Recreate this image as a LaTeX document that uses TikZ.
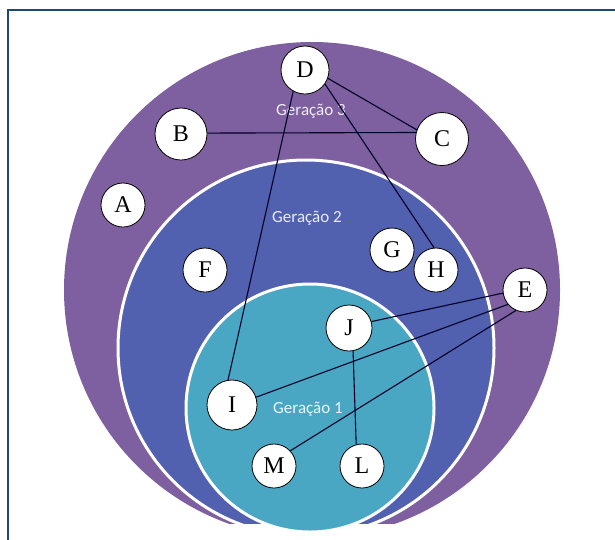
\documentclass[tikz,border=0pt]{standalone}
\usepackage{fontspec}
\setmainfont{Liberation Serif}
\newfontfamily\genfont{Carlito}
\usepackage{tikz}

\definecolor{genpurple}{RGB}{126,95,160}
\definecolor{genblue}{RGB}{81,97,176}
\definecolor{genteal}{RGB}{73,167,195}
\definecolor{frameblue}{RGB}{31,72,122}

\begin{document}
\begin{tikzpicture}
[x=1pt,y=-1pt,
  main node/.style={circle,fill=white,draw=black,line width=0.8pt,inner sep=0pt,minimum size=46pt,font=\fontsize{24}{24}\selectfont},
  gen label/.style={text=white!88!#1,font=\genfont\fontsize{17}{17}\selectfont},
  link/.style={draw=black!85!blue,line width=1.1pt}]

  \useasboundingbox (0,0) rectangle (615,539);
  \begin{scope}
    \clip (0,0) rectangle (615,539);
    \draw[frameblue,line width=2.6pt] (8,10) rectangle (630,560);
  \end{scope}

  % the three generations
  \begin{scope}
    \clip (0,0) rectangle (615,523);
    \fill[genpurple] (312,290) circle (248pt);
    \filldraw[fill=genblue,draw=white,line width=3pt] (306,348) circle (188pt);
  \end{scope}
  \filldraw[fill=genteal,draw=white,line width=3pt] (310,408) circle (124pt);

  \node [gen label=genpurple] (gen3) at 	(311,111) 	{Geração 3};
  \node [gen label=genblue] (gen2) at 		(307,218) 	{Geração 2};
  \node [gen label=genteal] (gen1) at 		(308,409) 	{Geração 1};

  \node [main node,minimum size=48pt] (D) at 	(305,70) 	{D};
  \node [main node,minimum size=52pt] (B) at 	(181,134) 	{B};
  \node [main node,minimum size=53pt] (C) at 	(442,139) 	{C};
  \node [main node,minimum size=44pt] (A) at 	(123,205) 	{A};
  \node [main node,minimum size=44pt] (F) at 	(205,270) 	{F};
  \node [main node,minimum size=44pt] (G) at 	(392,250) 	{G};
  \node [main node,minimum size=44pt] (H) at 	(436,270) 	{H};
  \node [main node,minimum size=44pt] (E) at 	(525,290) 	{E};
  \node [main node] (J) at 			(349,328) 	{J};
  \node [main node,minimum size=50pt] (I) at 	(232,405) 	{I};
  \node [main node,minimum size=44pt] (M) at 	(274,466) 	{M};
  \node [main node,minimum size=44pt] (L) at 	(362,466) 	{L};

   \foreach \from/\to in {D.-20/C.160,B.2/C.166,D.-119/I.99,D.-35/H.95,E.188/J.16,E.220/I.18,E.246/M.43,J.-80/L.105}
     \draw[link] (\from) -- (\to);

\end{tikzpicture}
\end{document}
